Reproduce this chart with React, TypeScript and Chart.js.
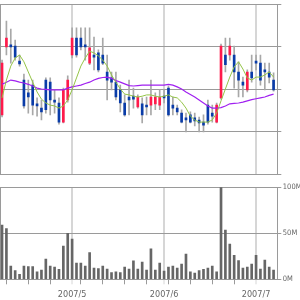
import { useEffect, useRef } from "react";
import { Chart, registerables } from "chart.js";

Chart.register(...registerables);

// Month start positions (trading-day index) and labels
const MONTH_LABELS = ["2007/5", "2007/6", "2007/7"];
const MONTH_START_INDEX = [16, 37, 58];
// Monday of each week (trading-day index)
const WEEK_START_INDEX = [1, 6, 11, 18, 23, 28, 33, 38, 43, 48, 53];

// Daily prices (price units)
const OPEN = [1140, 1300, 1305, 1302, 1267, 1222, 1192, 1210, 1166, 1156,
  1222, 1217, 1175, 1168, 1123, 1175, 1281, 1321, 1321, 1305,
  1262, 1281, 1286, 1281, 1241, 1227, 1217, 1199, 1168, 1182,
  1184, 1159, 1166, 1163, 1163, 1166, 1163, 1184, 1203, 1163,
  1156, 1144, 1133, 1140, 1133, 1128, 1123, 1163, 1144, 1123,
  1180, 1281, 1281, 1281, 1241, 1217, 1199, 1241, 1267, 1262,
  1246, 1241, 1222];
const HIGH = [1269, 1361, 1342, 1316, 1281, 1236, 1222, 1222, 1180, 1175,
  1227, 1227, 1199, 1180, 1203, 1232, 1345, 1345, 1345, 1345,
  1345, 1323, 1293, 1321, 1281, 1241, 1241, 1210, 1187, 1222,
  1203, 1187, 1180, 1182, 1222, 1192, 1199, 1199, 1208, 1182,
  1163, 1152, 1144, 1147, 1144, 1135, 1140, 1175, 1163, 1168,
  1307, 1321, 1321, 1302, 1265, 1229, 1246, 1281, 1281, 1281,
  1262, 1262, 1239];
const LOW = [1135, 1281, 1262, 1269, 1255, 1156, 1144, 1140, 1137, 1128,
  1144, 1140, 1144, 1118, 1121, 1170, 1274, 1276, 1293, 1269,
  1258, 1246, 1241, 1258, 1175, 1199, 1175, 1147, 1137, 1140,
  1156, 1156, 1121, 1140, 1140, 1152, 1152, 1168, 1137, 1140,
  1140, 1121, 1100, 1121, 1114, 1100, 1100, 1118, 1123, 1121,
  1177, 1241, 1269, 1203, 1182, 1182, 1194, 1217, 1246, 1210,
  1199, 1215, 1196];
const CLOSE = [1262, 1321, 1300, 1276, 1260, 1161, 1182, 1163, 1161, 1147,
  1152, 1175, 1170, 1123, 1199, 1222, 1321, 1281, 1300, 1300,
  1298, 1276, 1246, 1262, 1222, 1217, 1182, 1168, 1140, 1175,
  1177, 1182, 1140, 1159, 1182, 1182, 1182, 1180, 1140, 1156,
  1147, 1123, 1128, 1123, 1126, 1121, 1116, 1123, 1137, 1163,
  1302, 1258, 1302, 1241, 1222, 1210, 1241, 1227, 1262, 1222,
  1241, 1229, 1199];

// Moving averages
const MA_SHORT = [1180, 1222, 1255, 1274, 1281, 1265, 1241, 1217, 1194, 1177,
  1168, 1163, 1161, 1156, 1161, 1175, 1199, 1227, 1255, 1274,
  1290, 1286, 1279, 1269, 1255, 1234, 1217, 1201, 1189, 1187,
  1184, 1182, 1184, 1187, 1187, 1184, 1182, 1184, 1187, 1182,
  1180, 1170, 1156, 1137, 1128, 1123, 1123, 1123, 1128, 1144,
  1173, 1201, 1229, 1253, 1265, 1248, 1227, 1222, 1229, 1229,
  1234, 1241, 1229];
const MA_LONG = [1212, 1217, 1222, 1220, 1217, 1215, 1212, 1208, 1203, 1201,
  1200, 1199, 1199, 1199, 1199, 1203, 1206, 1208, 1210, 1214,
  1217, 1222, 1226, 1228, 1229, 1226, 1221, 1217, 1213, 1209,
  1208, 1209, 1210, 1210, 1210, 1210, 1210, 1210, 1212, 1210,
  1206, 1201, 1194, 1188, 1182, 1175, 1168, 1161, 1156, 1156,
  1157, 1161, 1166, 1167, 1168, 1170, 1173, 1176, 1178, 1180,
  1182, 1186, 1189];

// Volume in millions
const VOLUME = [59, 55, 14.5, 9.4, 5.4, 14.5, 13.7, 13.7, 8, 10,
  22, 14.5, 13.4, 10.9, 36, 50, 43.8, 17.7, 17.7, 14.5,
  29, 12.3, 11.6, 14.5, 11.2, 7.2, 8, 7.2, 13.4, 11.2,
  20, 11.2, 18.8, 10, 33, 10, 17.7, 9, 13.4, 14.5,
  12.3, 16.6, 27.5, 8, 6.8, 9.4, 10.9, 12.3, 14.5, 8,
  100, 53.6, 38.4, 26, 20.3, 12.3, 13.4, 16.6, 26, 11.2,
  21, 13.4, 10];

const PRICE_MIN = 1000;
const PRICE_MAX = 1400;
const PRICE_STEP = 100;
const VOLUME_MAX = 100;
const VOLUME_STEP = 50;

const RED = "#ff1a4b";
const BLUE = "#0a3ca8";
const WICK = "#a8a8a8";
const GRID = "#9a9a9a";
const MONTH_GRID = "#d6d6d6";
const TEXT = "#666666";
const FONT_FAMILY = '"Liberation Sans Narrow", "DejaVu Sans Condensed", "Roboto Condensed", sans-serif';

const X_MIN = -0.35;
const X_MAX = 62.85;
const TICK_VALUES = [...WEEK_START_INDEX, ...MONTH_START_INDEX].sort((a, b) => a - b);

function xAxis(showLabels: boolean, height: number): any {
  return {
    type: "linear",
    position: "bottom",
    min: X_MIN,
    max: X_MAX,
    bounds: "data",
    offset: false,
    afterBuildTicks: (s: any) => {
      s.ticks = TICK_VALUES.map((v) => ({ value: v }));
    },
    afterFit: (s: any) => {
      s.height = height;
    },
    grid: {
      offset: false,
      drawTicks: showLabels,
      tickLength: 5,
      color: (c: any) => (c.tick && MONTH_START_INDEX.includes(c.tick.value) ? MONTH_GRID : "rgba(0,0,0,0)"),
      lineWidth: (c: any) => (c.tick && MONTH_START_INDEX.includes(c.tick.value) ? 2 : 1),
      tickColor: (c: any) =>
        c.tick && WEEK_START_INDEX.includes(c.tick.value)
          ? GRID
          : c.tick && MONTH_START_INDEX.includes(c.tick.value)
          ? MONTH_GRID
          : "rgba(0,0,0,0)",
      tickWidth: 1,
    },
    border: { display: true, color: GRID, width: 1 },
    ticks: {
      display: showLabels,
      autoSkip: false,
      maxRotation: 0,
      minRotation: 0,
      padding: 5,
      color: TEXT,
      font: { family: FONT_FAMILY, size: 9 },
      callback: (v: any) => {
        const k = MONTH_START_INDEX.indexOf(v);
        return k >= 0 ? MONTH_LABELS[k] : "";
      },
    },
  };
}

function leftBorderAxis(): any {
  return {
    type: "linear",
    position: "left",
    display: true,
    min: 0,
    max: 1,
    ticks: { display: false },
    grid: { drawOnChartArea: false, drawTicks: false, color: "rgba(0,0,0,0)" },
    border: { display: true, color: GRID, width: 1 },
    afterFit: (s: any) => {
      s.width = 0.5;
    },
  };
}

export default function App() {
  const topRef = useRef<HTMLCanvasElement>(null);
  const botRef = useRef<HTMLCanvasElement>(null);

  useEffect(() => {
    document.body.style.margin = "0";
    const idx = OPEN.map((_, i) => i);

    const top = new Chart(topRef.current as HTMLCanvasElement, {
      type: "bar",
      data: {
        datasets: [
          {
            type: "line",
            xAxisID: "x",
            yAxisID: "y",
            data: idx.map((i) => ({ x: i, y: MA_SHORT[i] })),
            borderColor: "#94c447",
            borderWidth: 1,
            pointRadius: 0,
            tension: 0,
            order: 0,
          } as any,
          {
            type: "line",
            xAxisID: "x",
            yAxisID: "y",
            data: idx.map((i) => ({ x: i, y: MA_LONG[i] })),
            borderColor: "#a020f0",
            borderWidth: 1.2,
            pointRadius: 0,
            tension: 0,
            order: 0,
          } as any,
          {
            type: "bar",
            xAxisID: "x",
            yAxisID: "y",
            data: idx.map((i) => ({ x: i, y: [OPEN[i], CLOSE[i]] })),
            backgroundColor: (c: any) => (CLOSE[c.dataIndex] >= OPEN[c.dataIndex] ? RED : BLUE),
            barThickness: 2,
            grouped: false,
            borderWidth: 0,
            order: 1,
          } as any,
          {
            type: "bar",
            xAxisID: "x",
            yAxisID: "y",
            data: idx.map((i) => ({ x: i, y: [LOW[i], HIGH[i]] })),
            backgroundColor: WICK,
            barThickness: 1,
            grouped: false,
            borderWidth: 0,
            order: 2,
          } as any,
        ],
      },
      options: {
        responsive: false,
        animation: false,
        devicePixelRatio: 1,
        layout: { padding: { top: 4.5, left: 0, right: 0, bottom: 0 } },
        plugins: { legend: { display: false }, tooltip: { enabled: false } },
        scales: {
          x: xAxis(false, 5.7),
          y: {
            type: "linear",
            position: "right",
            min: PRICE_MIN,
            max: PRICE_MAX,
            ticks: { display: false, stepSize: PRICE_STEP },
            grid: { color: GRID, tickLength: 4, drawTicks: true },
            border: { display: true, color: GRID },
            afterFit: (s: any) => {
              s.width = 22.7;
            },
          },
          yl: leftBorderAxis(),
        } as any,
      },
    });

    const bot = new Chart(botRef.current as HTMLCanvasElement, {
      type: "bar",
      data: {
        datasets: [
          {
            type: "bar",
            xAxisID: "x",
            yAxisID: "y",
            data: idx.map((i) => ({ x: i, y: VOLUME[i] })),
            backgroundColor: "#666666",
            barThickness: 2,
            grouped: false,
            borderWidth: 0,
          } as any,
        ],
      },
      options: {
        responsive: false,
        animation: false,
        devicePixelRatio: 1,
        layout: { padding: { top: 7.3, left: 0, right: 0, bottom: 0 } },
        plugins: { legend: { display: false }, tooltip: { enabled: false } },
        scales: {
          x: xAxis(true, 20.7),
          y: {
            type: "linear",
            position: "right",
            min: 0,
            max: VOLUME_MAX,
            ticks: {
              stepSize: VOLUME_STEP,
              padding: 1.5,
              color: TEXT,
              font: { family: FONT_FAMILY, size: 7.5 },
              callback: (v: any) => v + "M",
            },
            grid: { color: GRID, tickLength: 4, drawTicks: true },
            border: { display: true, color: GRID },
            afterFit: (s: any) => {
              s.width = 22.7;
            },
          },
          yl: leftBorderAxis(),
        } as any,
      },
    });

    return () => {
      top.destroy();
      bot.destroy();
    };
  }, []);

  return (
    <div style={{ position: "relative", width: 300, height: 300 }}>
      <canvas
        ref={topRef}
        width={300}
        height={180}
        style={{ position: "absolute", left: 0, top: 0, width: 300, height: 180 }}
      />
      <canvas
        ref={botRef}
        width={300}
        height={120}
        style={{ position: "absolute", left: 0, top: 180, width: 300, height: 120 }}
      />
    </div>
  );
}
